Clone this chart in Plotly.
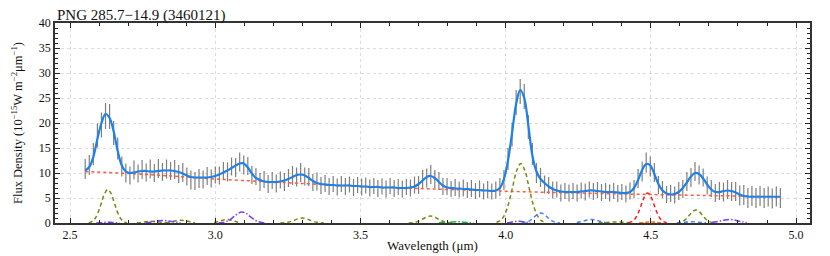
import plotly.graph_objects as go

# ---------------- data ----------------
# wavelength grid of the spectrum (micron)
wl = [round(2.552 + 0.014 * i, 3) for i in range(172)]

flux = [
    10.8, 11.6, 13.8, 17.5, 19.6, 21.4, 21.3, 18.0, 14.9, 11.3,
    10.0, 9.5, 10.6, 9.9, 10.7, 10.1, 10.8, 10.0, 10.9, 10.2,
    10.8, 10.4, 10.7, 9.8, 10.1, 9.3, 8.6, 8.4, 8.9, 8.7,
    9.4, 8.9, 9.6, 9.5, 10.4, 10.2, 11.3, 11.1, 12.2, 11.6,
    11.4, 9.6, 9.3, 8.2, 8.7, 7.8, 8.5, 7.9, 8.6, 8.2,
    9.0, 9.5, 9.2, 10.1, 9.3, 9.2, 8.1, 8.3, 7.5, 7.9,
    7.3, 7.8, 7.2, 7.8, 7.3, 7.7, 7.1, 7.6, 7.2, 7.5,
    7.0, 7.4, 6.9, 7.3, 6.8, 7.4, 6.9, 7.2, 6.8, 7.2,
    7.0, 7.6, 7.6, 8.8, 9.0, 9.7, 8.8, 8.4, 7.3, 7.3,
    6.8, 7.1, 6.7, 7.0, 6.6, 6.9, 6.4, 6.8, 6.3, 6.7,
    6.3, 6.6, 7.2, 8.6, 12.8, 17.7, 24.1, 26.3, 25.3, 19.2,
    13.8, 10.0, 9.1, 7.7, 7.5, 6.6, 6.7, 6.0, 6.4, 6.0,
    6.4, 6.0, 6.5, 6.2, 6.7, 6.3, 6.6, 6.1, 6.4, 6.0,
    6.4, 5.9, 6.2, 5.8, 6.4, 6.8, 8.9, 10.3, 12.1, 11.3,
    10.1, 7.6, 6.7, 5.7, 5.9, 5.6, 6.4, 6.8, 8.3, 9.1,
    10.3, 9.6, 9.1, 7.5, 6.9, 6.0, 6.4, 6.2, 6.7, 6.3,
    6.3, 5.5, 5.6, 5.0, 5.4, 5.0, 5.4, 5.0, 5.3, 4.9,
    5.3, 5.0,
]

flux_err = [
    2.0, 2.0, 2.2, 2.4, 2.5, 2.6, 2.5, 2.4, 2.2, 2.0,
    1.9, 1.8, 1.9, 1.8, 1.9, 1.8, 1.9, 1.8, 1.9, 1.8,
    1.9, 1.8, 1.9, 1.8, 1.9, 1.8, 1.9, 1.8, 1.9, 1.8,
    1.8, 1.8, 1.7, 1.8, 1.8, 1.9, 1.8, 1.9, 1.9, 1.9,
    1.8, 1.8, 1.7, 1.8, 1.7, 1.8, 1.7, 1.8, 1.7, 1.8,
    1.8, 1.9, 1.9, 1.9, 1.8, 1.8, 1.7, 1.8, 1.7, 1.7,
    1.7, 1.6, 1.7, 1.6, 1.7, 1.6, 1.7, 1.6, 1.7, 1.6,
    1.7, 1.6, 1.7, 1.6, 1.7, 1.6, 1.7, 1.6, 1.7, 1.6,
    1.7, 1.7, 1.8, 1.8, 1.9, 1.9, 1.8, 1.8, 1.7, 1.7,
    1.6, 1.7, 1.6, 1.7, 1.6, 1.7, 1.6, 1.7, 1.6, 1.7,
    1.6, 1.7, 1.8, 2.0, 2.2, 2.4, 2.5, 2.5, 2.5, 2.4,
    2.2, 2.0, 1.9, 1.8, 1.7, 1.7, 1.6, 1.7, 1.6, 1.7,
    1.6, 1.7, 1.6, 1.7, 1.6, 1.7, 1.6, 1.7, 1.6, 1.7,
    1.6, 1.7, 1.6, 1.7, 1.7, 1.8, 1.9, 2.0, 2.0, 2.0,
    1.9, 1.8, 1.7, 1.7, 1.7, 1.7, 1.8, 1.8, 1.9, 1.9,
    1.9, 1.9, 1.8, 1.8, 1.7, 1.8, 1.8, 1.9, 1.9, 1.9,
    1.9, 2.0, 2.0, 2.0, 2.0, 2.0, 2.0, 2.0, 2.0, 2.0,
    2.0, 2.0,
]

# total fitted model, read at the spectrum wavelengths
fit_flux = [
    10.5, 11.2, 13.2, 16.8, 20.0, 21.8, 21.0, 18.3, 14.4, 11.5,
    10.3, 10.0, 10.1, 10.3, 10.4, 10.4, 10.3, 10.3, 10.4, 10.5,
    10.5, 10.5, 10.4, 10.2, 9.9, 9.5, 9.2, 9.1, 9.1, 9.1,
    9.1, 9.2, 9.4, 9.7, 10.1, 10.5, 11.0, 11.5, 11.9, 11.9,
    11.1, 9.9, 9.0, 8.6, 8.3, 8.2, 8.2, 8.2, 8.3, 8.5,
    8.8, 9.2, 9.6, 9.7, 9.5, 9.0, 8.4, 8.0, 7.8, 7.7,
    7.6, 7.6, 7.5, 7.5, 7.5, 7.5, 7.4, 7.4, 7.3, 7.3,
    7.2, 7.2, 7.2, 7.1, 7.1, 7.1, 7.1, 7.0, 7.0, 7.0,
    7.1, 7.3, 7.8, 8.5, 9.2, 9.4, 9.0, 8.2, 7.5, 7.1,
    7.0, 6.9, 6.9, 6.8, 6.8, 6.7, 6.6, 6.6, 6.5, 6.5,
    6.4, 6.5, 7.0, 8.8, 12.5, 18.0, 23.8, 26.6, 25.0, 19.5,
    13.5, 10.3, 8.8, 8.0, 7.3, 6.8, 6.5, 6.3, 6.2, 6.2,
    6.2, 6.2, 6.3, 6.4, 6.5, 6.5, 6.4, 6.3, 6.2, 6.2,
    6.2, 6.1, 6.0, 6.0, 6.2, 7.0, 8.6, 10.6, 11.8, 11.5,
    9.8, 7.8, 6.5, 5.9, 5.7, 5.8, 6.2, 7.0, 8.1, 9.3,
    10.0, 9.8, 8.9, 7.7, 6.7, 6.2, 6.2, 6.4, 6.5, 6.4,
    6.1, 5.7, 5.4, 5.3, 5.25, 5.25, 5.25, 5.25, 5.25, 5.25,
    5.25, 5.25,
]

# continuum
cont_wl = [2.552, 2.70, 2.85, 3.00, 3.20, 3.50, 3.75, 4.00, 4.25, 4.50, 4.75, 4.946]
cont_flux = [10.3, 9.9, 9.4, 8.8, 8.2, 7.35, 6.8, 6.35, 6.0, 5.7, 5.45, 5.25]

# line components (None separates individual lines)
olive_wl = [
    2.564, 2.575, 2.586, 2.597, 2.608, 2.619, 2.630, 2.641, 2.652, 2.663, 2.674, 2.685, 2.696, None,
    2.730, 2.743, 2.755, 2.768, 2.780, 2.793, 2.805, 2.818, 2.830, None,
    2.830, 2.843, 2.855, 2.868, 2.880, 2.893, 2.905, 2.918, 2.930, None,
    2.996, 3.007, 3.018, 3.029, 3.040, 3.051, 3.062, 3.073, 3.084, None,
    3.224, 3.237, 3.249, 3.262, 3.274, 3.287, 3.299, 3.312, 3.324, 3.337, 3.349, 3.362, 3.374, None,
    3.666, 3.679, 3.691, 3.704, 3.716, 3.729, 3.741, 3.754, 3.766, 3.779, 3.791, 3.804, 3.816, None,
    3.968, 3.982, 3.996, 4.010, 4.024, 4.038, 4.052, 4.066, 4.080, 4.094, 4.108, 4.122, 4.136, None,
    4.320, 4.335, 4.350, 4.365, 4.380, 4.395, 4.410, 4.425, 4.440, None,
    4.589, 4.600, 4.611, 4.622, 4.633, 4.644, 4.655, 4.666, 4.677, 4.688, 4.699, 4.710, 4.721,
]
olive_flux = [
    0.07, 0.29, 0.90, 2.18, 4.07, 5.91, 6.70, 5.91, 4.07, 2.18, 0.90, 0.29, 0.07, None,
    0.05, 0.11, 0.21, 0.31, 0.35, 0.31, 0.21, 0.11, 0.05, None,
    0.07, 0.18, 0.33, 0.49, 0.55, 0.49, 0.33, 0.18, 0.07, None,
    0.09, 0.23, 0.42, 0.62, 0.70, 0.62, 0.42, 0.23, 0.09, None,
    0.01, 0.04, 0.14, 0.33, 0.61, 0.88, 1.00, 0.88, 0.61, 0.33, 0.14, 0.04, 0.01, None,
    0.02, 0.06, 0.19, 0.46, 0.85, 1.23, 1.40, 1.23, 0.85, 0.46, 0.19, 0.06, 0.02, None,
    0.13, 0.52, 1.61, 3.87, 7.22, 10.5, 11.9, 10.5, 7.22, 3.87, 1.61, 0.52, 0.13, None,
    0.03, 0.07, 0.12, 0.18, 0.20, 0.18, 0.12, 0.07, 0.03, None,
    0.03, 0.11, 0.35, 0.85, 1.58, 2.29, 2.60, 2.29, 1.58, 0.85, 0.35, 0.11, 0.03,
]

purple_wl = [
    2.590, 2.600, 2.610, 2.620, 2.630, 2.640, 2.650, 2.660, 2.670, None,
    2.760, 2.775, 2.790, 2.805, 2.820, 2.835, 2.850, 2.865, 2.880, None,
    3.011, 3.025, 3.038, 3.052, 3.065, 3.079, 3.092, 3.106, 3.119, 3.133, 3.146, 3.160, 3.173, None,
    4.005, 4.015, 4.025, 4.035, 4.045, 4.055, 4.065, 4.075, 4.085, None,
    4.710, 4.725, 4.740, 4.755, 4.770, 4.785, 4.800, 4.815, 4.830,
]
purple_flux = [
    0.02, 0.05, 0.09, 0.13, 0.15, 0.13, 0.09, 0.05, 0.02, None,
    0.07, 0.16, 0.30, 0.44, 0.50, 0.44, 0.30, 0.16, 0.07, None,
    0.02, 0.10, 0.30, 0.72, 1.34, 1.94, 2.20, 1.94, 1.34, 0.72, 0.30, 0.10, 0.02, None,
    0.05, 0.11, 0.21, 0.31, 0.35, 0.31, 0.21, 0.11, 0.05, None,
    0.09, 0.23, 0.42, 0.62, 0.70, 0.62, 0.42, 0.23, 0.09,
]

blue_wl = [
    4.055, 4.066, 4.077, 4.088, 4.099, 4.110, 4.121, 4.132, 4.143, 4.154, 4.165, 4.176, 4.187, None,
    4.245, 4.258, 4.270, 4.283, 4.295, 4.308, 4.320, 4.333, 4.345, None,
    4.590, 4.603, 4.615, 4.628, 4.640, 4.653, 4.665, 4.678, 4.690,
]
blue_flux = [
    0.02, 0.09, 0.27, 0.65, 1.21, 1.76, 2.00, 1.76, 1.21, 0.65, 0.27, 0.09, 0.02, None,
    0.09, 0.23, 0.42, 0.62, 0.70, 0.62, 0.42, 0.23, 0.09, None,
    0.03, 0.08, 0.15, 0.22, 0.25, 0.22, 0.15, 0.08, 0.03,
]

green_wl = [3.770, 3.785, 3.800, 3.815, 3.830, 3.845, 3.860, 3.875, 3.890]
green_flux = [0.03, 0.08, 0.15, 0.22, 0.25, 0.22, 0.15, 0.08, 0.03]

red_wl = [4.423, 4.434, 4.445, 4.456, 4.467, 4.478, 4.489, 4.500, 4.511, 4.522, 4.533, 4.544, 4.555]
red_flux = [0.07, 0.26, 0.81, 1.95, 3.64, 5.29, 6.00, 5.29, 3.64, 1.95, 0.81, 0.26, 0.07]

orange_wl = [4.460, 4.470, 4.480, 4.490, 4.500, 4.510, 4.520, 4.530, 4.540]
orange_flux = [0.03, 0.07, 0.12, 0.18, 0.20, 0.18, 0.12, 0.07, 0.03]

title_text = "PNG 285.7\u221214.9 (3460121)"
x_label = "Wavelength (\u03bcm)"
y_label = "Flux Density (10<sup>\u221215</sup>W m<sup>\u22122</sup>\u03bcm<sup>\u22121</sup>)"

# ---------------- figure ----------------
FONT = "Liberation Serif, Times New Roman, serif"
fig = go.Figure()

fig.add_trace(go.Scatter(
    x=wl, y=flux, mode="markers",
    marker=dict(size=1, color="rgba(0,0,0,0)"),
    error_y=dict(type="data", array=flux_err, visible=True,
                 color="rgba(95,95,95,0.8)", thickness=1.2, width=0),
    hoverinfo="skip", showlegend=False,
))

fig.add_trace(go.Scatter(x=cont_wl, y=cont_flux, mode="lines", line_shape="spline",
                         line=dict(color="#ff5a3c", width=1.5, dash="3px,3px"), showlegend=False))

comp_styles = [
    (olive_wl, olive_flux, "#7a8a10", "4px,3px"),
    (purple_wl, purple_flux, "#7b3cff", "6px,2px,1.5px,2px"),
    (blue_wl, blue_flux, "#3f7fff", "4px,3px"),
    (green_wl, green_flux, "#22b04a", "6px,2px,1.5px,2px"),
    (red_wl, red_flux, "#ff1a1a", "4px,3px"),
    (orange_wl, orange_flux, "#ff6a00", "4px,2px"),
]
for xs, ys, col, dash in comp_styles:
    fig.add_trace(go.Scatter(x=xs, y=ys, mode="lines", line_shape="spline",
                             line=dict(color=col, width=1.5, dash=dash),
                             connectgaps=False, showlegend=False))

fig.add_trace(go.Scatter(x=wl, y=fit_flux, mode="lines", line_shape="spline",
                         line=dict(color="#1f80e6", width=2.2), showlegend=False))

axis_common = dict(
    showline=True, linecolor="#333333", linewidth=1.5, mirror="allticks",
    ticks="inside", ticklen=5, tickwidth=1, tickcolor="#222222",
    showgrid=True, gridcolor="#dcdcdc", griddash="dot", gridwidth=1,
    zeroline=False, automargin=False,
    tickfont=dict(family=FONT, size=12, color="#111111"),
)

# the page body has an 8px default margin, so the figure is sized to fit the window
fig.update_layout(
    width=822, height=248,
    margin=dict(l=47, r=20, t=15, b=33),
    paper_bgcolor="white", plot_bgcolor="white",
    font=dict(family=FONT, color="#111111"),
    xaxis=dict(range=[2.448, 5.048], tick0=2.5, dtick=0.5, tickformat=".1f",
               minor=dict(dtick=0.1, tick0=2.5, ticks="inside", ticklen=3, tickcolor="#222222", showgrid=False),
               title=dict(text=x_label, font=dict(family=FONT, size=13), standoff=0),
               **axis_common),
    yaxis=dict(range=[0, 40], tick0=0, dtick=5,
               minor=dict(dtick=1, tick0=0, ticks="inside", ticklen=3, tickcolor="#222222", showgrid=False),
               title=dict(text=y_label, font=dict(family=FONT, size=12.5), standoff=13),
               **axis_common),
    annotations=[dict(text=title_text, xref="paper", yref="paper", x=0, y=1,
                      xanchor="left", yanchor="bottom", yshift=-3, showarrow=False,
                      font=dict(family=FONT, size=15, color="#111111"))],
)

fig.write_html("out.html")
